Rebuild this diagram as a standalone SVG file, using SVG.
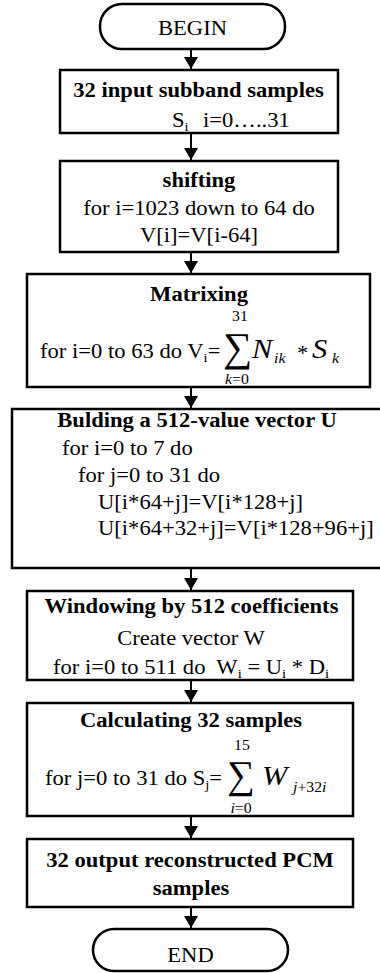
<svg xmlns="http://www.w3.org/2000/svg" width="380" height="973" viewBox="0 0 380 973" font-family="'Liberation Serif', 'Times New Roman', serif">
<style>
.t{font-family:"Liberation Serif","Times New Roman",serif;font-size:20px;fill:#000}
.b{font-weight:bold}
.s{font-size:14px}
.it{font-style:italic}
.box{fill:#fff;stroke:#000;stroke-width:2.5}
.c{stroke:#000;stroke-width:2;fill:none}
</style>
<defs>
<marker id="ah" markerUnits="userSpaceOnUse" markerWidth="14" markerHeight="14" refX="12" refY="7" orient="auto">
<path d="M0,0 L12,7 L0,14 z" fill="#000"/>
</marker>
</defs>
<g id="connectors">
<line class="c" x1="191" y1="49" x2="191" y2="69" marker-end="url(#ah)"/>
<line class="c" x1="191" y1="133" x2="191" y2="160" marker-end="url(#ah)"/>
<line class="c" x1="191" y1="252" x2="191" y2="273" marker-end="url(#ah)"/>
<line class="c" x1="191" y1="387" x2="191" y2="408" marker-end="url(#ah)"/>
<line class="c" x1="191" y1="568" x2="191" y2="590" marker-end="url(#ah)"/>
<line class="c" x1="191" y1="680" x2="191" y2="702" marker-end="url(#ah)"/>
<line class="c" x1="191" y1="816" x2="191" y2="838" marker-end="url(#ah)"/>
<line class="c" x1="191" y1="907" x2="191" y2="928" marker-end="url(#ah)"/>
</g>
<g id="begin">
<rect class="box" x="100" y="4" width="185" height="45" rx="22" ry="22"/>
<text class="t" text-anchor="middle" transform="translate(192.5,35) scale(1.13,1)">BEGIN</text>
</g>
<g id="input">
<rect class="box" x="60" y="70" width="278" height="63"/>
<text class="t b" text-anchor="middle" transform="translate(198.5,97) scale(1.13,1)">32 input subband samples</text>
<text class="t" transform="translate(172,127) scale(1.13,1)">S<tspan font-size="13" dy="4">i</tspan></text>
<text class="t" transform="translate(203,127) scale(1.13,1)">i=0…..31</text>
</g>
<g id="shifting">
<rect class="box" x="60" y="161" width="278" height="91"/>
<text class="t b" text-anchor="middle" transform="translate(199,187) scale(1.13,1)">shifting</text>
<text class="t" text-anchor="middle" transform="translate(199,215) scale(1.13,1)">for i=1023 down to 64 do</text>
<text class="t" text-anchor="middle" transform="translate(199,242) scale(1.13,1)">V[i]=V[i-64]</text>
</g>
<g id="matrixing">
<rect class="box" x="27" y="274" width="343" height="113"/>
<text class="t b" text-anchor="middle" transform="translate(199,301) scale(1.13,1)">Matrixing</text>
<text class="t s" text-anchor="middle" transform="translate(240,321) scale(1.13,1)">31</text>
<text class="t" transform="translate(40,358) scale(1.13,1)">for i=0 to 63 do V<tspan font-size="13" dy="4">i</tspan><tspan dy="-4">=</tspan></text>
<text class="t" transform="translate(223,361)" style="font-size:41px">∑</text>
<text class="t it" transform="translate(252,358) scale(1.13,1)" style="font-size:27px">N</text>
<text class="t it s" transform="translate(274,363) scale(1.13,1)">ik</text>
<text class="t" transform="translate(297,360) scale(1.13,1)">*</text>
<text class="t it" transform="translate(312,358) scale(1.13,1)" style="font-size:27px">S</text>
<text class="t it s" transform="translate(332,363) scale(1.13,1)">k</text>
<text class="t s" text-anchor="middle" transform="translate(237,384) scale(1.13,1)"><tspan class="it">k</tspan>=0</text>
</g>
<g id="building">
<rect class="box" x="12" y="409" width="372" height="159"/>
<text class="t b" text-anchor="middle" transform="translate(197,427) scale(1.13,1)">Bulding a 512-value vector U</text>
<text class="t" transform="translate(62,455) scale(1.13,1)">for i=0 to 7 do</text>
<text class="t" transform="translate(78,482) scale(1.13,1)">for j=0 to 31 do</text>
<text class="t" transform="translate(98,509) scale(1.13,1)">U[i*64+j]=V[i*128+j]</text>
<text class="t" transform="translate(98,535) scale(1.13,1)">U[i*64+32+j]=V[i*128+96+j]</text>
</g>
<g id="windowing">
<rect class="box" x="27" y="591" width="326" height="89"/>
<text class="t b" text-anchor="middle" transform="translate(191.5,613) scale(1.13,1)">Windowing by 512 coefficients</text>
<text class="t" text-anchor="middle" transform="translate(191,645) scale(1.13,1)">Create vector W</text>
<text class="t" xml:space="preserve" transform="translate(53,674) scale(1.13,1)">for i=0 to 511 do  W<tspan font-size="13" dy="4">i</tspan><tspan dy="-4"> = U</tspan><tspan font-size="13" dy="4">i</tspan><tspan dy="-4"> * D</tspan><tspan font-size="13" dy="4">i</tspan></text>
</g>
<g id="calculating">
<rect class="box" x="27" y="703" width="326" height="113"/>
<text class="t b" text-anchor="middle" transform="translate(191,727) scale(1.13,1)">Calculating 32 samples</text>
<text class="t s" text-anchor="middle" transform="translate(242,750) scale(1.13,1)">15</text>
<text class="t" transform="translate(45,785) scale(1.13,1)">for j=0 to 31 do S<tspan font-size="13" dy="4">j</tspan><tspan dy="-4">=</tspan></text>
<text class="t" transform="translate(227,788)" style="font-size:39px">∑</text>
<text class="t it" transform="translate(262,785) scale(1.13,1)" style="font-size:27px">W</text>
<text class="t s" transform="translate(293,792) scale(1.13,1)"><tspan class="it">j</tspan>+32<tspan class="it">i</tspan></text>
<text class="t s" text-anchor="middle" transform="translate(241,813) scale(1.13,1)"><tspan class="it">i</tspan>=0</text>
</g>
<g id="output">
<rect class="box" x="27" y="839" width="326" height="68"/>
<text class="t b" text-anchor="middle" transform="translate(190,867) scale(1.13,1)">32 output reconstructed PCM</text>
<text class="t b" text-anchor="middle" transform="translate(191,895) scale(1.13,1)">samples</text>
</g>
<g id="end">
<rect class="box" x="93" y="929" width="195" height="42" rx="21" ry="21"/>
<text class="t" text-anchor="middle" transform="translate(190.5,962) scale(1.13,1)">END</text>
</g>
</svg>
